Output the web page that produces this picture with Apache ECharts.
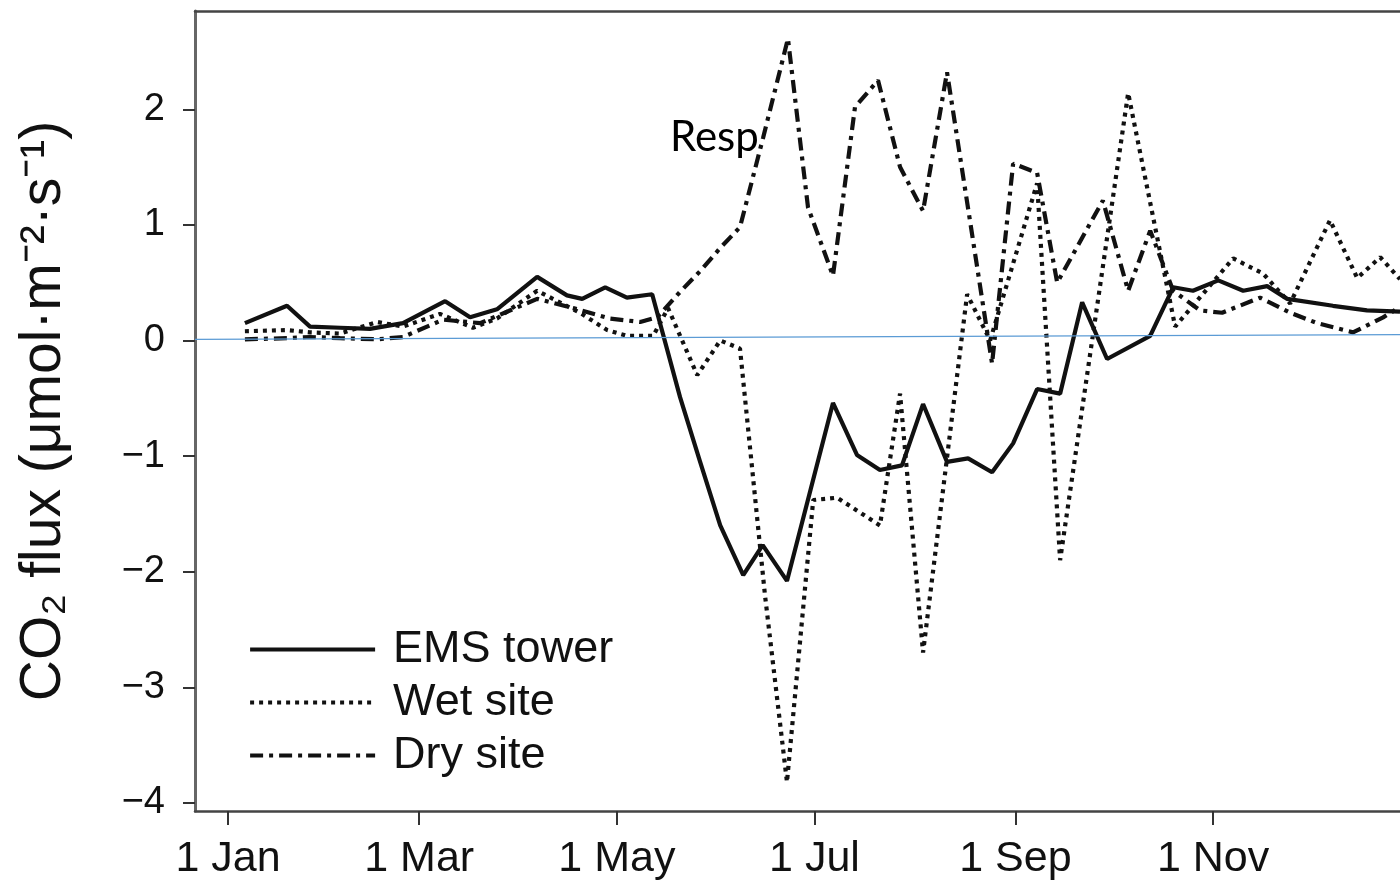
<!DOCTYPE html>
<html><head><meta charset="utf-8">
<script src="https://cdn.jsdelivr.net/npm/echarts@6/dist/echarts.min.js"></script>
<style>html,body{margin:0;padding:0;background:#fff}#c{width:1400px;height:885px}</style>
</head><body><div id="c"></div>
<script>
// Tick positions (day of year) and labels
const xTickDays = [0, 59, 120, 181, 243, 304];
const xTickLabels = ['1 Jan', '1 Mar', '1 May', '1 Jul', '1 Sep', '1 Nov'];
const yTickValues = [-4, -3, -2, -1, 0, 1, 2];
const yTickLabels = ['\u22124', '\u22123', '\u22122', '\u22121', '0', '1', '2'];
const seriesNames = ['EMS tower', 'Wet site', 'Dry site'];

// EMS tower (solid)
const emsDays = [5.2, 18.2, 25.3, 34.6, 43.8, 54.0, 67.0, 74.7, 83.0, 95.4, 104.6, 109.3, 116.4, 123.1, 130.9, 139.5, 145.7, 151.9, 159.0, 165.0, 172.5, 186.7, 194.1, 201.2, 208.0, 214.5, 221.9, 228.4, 235.8, 242.3, 249.7, 256.8, 263.6, 271.3, 284.6, 291.7, 297.8, 305.6, 313.3, 320.7, 326.9, 341.0, 351.5, 361.7];
const emsFlux = [0.15, 0.30, 0.12, 0.11, 0.10, 0.15, 0.34, 0.20, 0.27, 0.55, 0.39, 0.36, 0.46, 0.37, 0.40, -0.49, -1.05, -1.60, -2.03, -1.77, -2.08, -0.54, -0.99, -1.12, -1.08, -0.55, -1.05, -1.02, -1.14, -0.89, -0.42, -0.46, 0.33, -0.16, 0.04, 0.46, 0.43, 0.52, 0.43, 0.47, 0.36, 0.30, 0.26, 0.25];

// Wet site (dotted)
const wetDays = [5.2, 18.2, 25.3, 34.6, 46.0, 54.0, 65.4, 75.6, 83.0, 95.4, 108.6, 117.0, 123.1, 131.2, 135.8, 144.8, 151.9, 158.0, 165.7, 172.5, 180.6, 188.0, 201.2, 207.4, 214.5, 228.1, 235.2, 249.7, 256.8, 277.8, 292.3, 310.2, 319.4, 327.8, 340.1, 348.5, 355.6, 361.7];
const wetFlux = [0.08, 0.09, 0.07, 0.06, 0.16, 0.12, 0.23, 0.11, 0.19, 0.43, 0.24, 0.09, 0.04, 0.04, 0.28, -0.30, 0.00, -0.07, -2.20, -3.82, -1.38, -1.36, -1.60, -0.46, -2.70, 0.40, 0.00, 1.36, -1.90, 2.14, 0.12, 0.71, 0.58, 0.32, 1.04, 0.54, 0.72, 0.53];

// Dry site (dash-dot)
const dryDays = [5.2, 18.2, 25.3, 34.6, 46.0, 54.0, 66.4, 77.8, 95.4, 106.5, 117.9, 127.2, 132.4, 139.5, 145.7, 151.9, 158.0, 165.1, 172.8, 179.0, 186.7, 193.5, 200.6, 207.4, 214.5, 221.9, 235.8, 242.3, 249.7, 255.9, 270.0, 277.8, 284.6, 291.7, 300.0, 306.8, 318.5, 327.8, 336.1, 347.2, 356.5, 361.7];
const dryFlux = [0.01, 0.02, 0.03, 0.02, 0.01, 0.03, 0.18, 0.15, 0.36, 0.28, 0.19, 0.16, 0.20, 0.42, 0.60, 0.80, 0.98, 1.75, 2.61, 1.15, 0.56, 2.02, 2.25, 1.50, 1.12, 2.32, -0.20, 1.53, 1.45, 0.50, 1.21, 0.43, 0.95, 0.43, 0.26, 0.24, 0.37, 0.24, 0.15, 0.07, 0.20, 0.29];

// Hand-drawn reference line near zero
const zeroLineDays = [-10.2, 361.7];
const zeroLineFlux = [0.01, 0.05];

const zip = (a, b) => a.map((v, i) => [v, b[i]]);

const chart = echarts.init(document.getElementById('c'), null, {renderer: 'canvas'});
const font = 'Liberation Sans';
const ink = '#111';
const lineW = 4.2;

chart.setOption({
  animation: false,
  backgroundColor: '#fff',
  grid: {left: 195, right: 0, top: 11, bottom: 74, containLabel: false},
  legend: {
    orient: 'vertical', left: 243, top: 622,
    itemWidth: 125, itemHeight: 14, itemGap: 8,
    itemStyle: {opacity: 0},
    lineStyle: {width: 4.2},
    textStyle: {fontFamily: font, fontSize: 45, color: ink, padding: [0, 0, 0, 13]},
    data: seriesNames
  },
  xAxis: [{
    type: 'value', min: -10.2, max: 361.7,
    axisLine: {show: true, onZero: false, lineStyle: {color: '#444', width: 2.5}},
    axisTick: {show: true, customValues: xTickDays, length: 14, lineStyle: {color: '#333', width: 2}},
    axisLabel: {customValues: xTickDays, formatter: v => xTickLabels[xTickDays.indexOf(v)] || '',
      fontFamily: font, fontSize: 43, color: ink, margin: 27},
    splitLine: {show: false}
  }, {
    type: 'value', position: 'top', min: -10.2, max: 361.7,
    axisLine: {show: true, onZero: false, lineStyle: {color: '#444', width: 2.5}},
    axisTick: {show: false}, axisLabel: {show: false}, splitLine: {show: false}
  }],
  yAxis: {
    type: 'value', min: -4.07, max: 2.85,
    name: 'CO\u2082 flux (\u03bcmol\u00b7m\u207b\u00b2\u00b7s\u207b\u00b9)',
    nameLocation: 'middle', nameGap: 122,
    nameTextStyle: {fontFamily: font, fontSize: 57, color: ink},
    axisLine: {show: true, onZero: false, lineStyle: {color: '#666', width: 3}},
    axisTick: {show: true, customValues: yTickValues, length: 12, lineStyle: {color: '#333', width: 2}},
    axisLabel: {customValues: yTickValues, formatter: v => yTickLabels[yTickValues.indexOf(v)] || '',
      fontFamily: font, fontSize: 38, color: ink, margin: 30},
    splitLine: {show: false}
  },
  series: [{
    name: seriesNames[0], type: 'line', symbol: 'none', data: zip(emsDays, emsFlux),
    lineStyle: {color: ink, width: lineW, type: 'solid'}, itemStyle: {color: ink},
    markLine: {
      silent: true, symbol: ['none', 'none'], label: {show: false}, z: 10,
      lineStyle: {color: '#5B9BD5', width: 1.3, type: 'solid'},
      data: [[{coord: [zeroLineDays[0], zeroLineFlux[0]]}, {coord: [zeroLineDays[1], zeroLineFlux[1]]}]]
    }
  }, {
    name: seriesNames[1], type: 'line', symbol: 'none', data: zip(wetDays, wetFlux),
    lineStyle: {color: ink, width: lineW, type: [4, 5]}, itemStyle: {color: ink}
  }, {
    name: seriesNames[2], type: 'line', symbol: 'none', data: zip(dryDays, dryFlux),
    lineStyle: {color: ink, width: lineW, type: [13, 6, 4, 6]}, itemStyle: {color: ink}
  }],
  graphic: [{
    type: 'text', left: 670, top: 116,
    style: {text: 'Resp', font: '42px Lato', fill: '#000'}
  }]
});
</script></body></html>
